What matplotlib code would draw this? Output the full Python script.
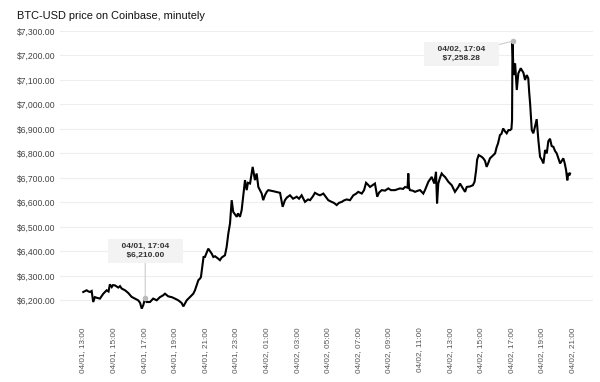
import matplotlib
matplotlib.use("Agg")
import matplotlib.pyplot as plt

# hours since 04/01 13:00
HOURS = [
    0.02, 0.24, 0.36, 0.46, 0.57, 0.67, 0.78, 0.92, 1.11, 1.33, 1.55, 1.67, 1.76, 1.88, 1.96,
    2.09, 2.31, 2.42, 2.53, 2.75, 2.96, 3.18, 3.40, 3.61, 3.73, 3.84, 3.94, 4.07, 4.16, 4.38,
    4.59, 4.82, 5.03, 5.23, 5.36, 5.58, 5.80, 6.01, 6.23, 6.45, 6.56, 6.78, 6.99, 7.21, 7.32,
    7.54, 7.65, 7.71, 7.80, 7.88, 7.97, 8.19, 8.41, 8.52, 8.63, 8.84, 8.95, 9.07, 9.28, 9.39,
    9.50, 9.61, 9.72, 9.82, 10.05, 10.13, 10.26, 10.37, 10.46, 10.59, 10.70, 10.78, 10.92, 11.09, 11.24,
    11.35, 11.46, 11.68, 11.78, 11.90, 12.01, 12.11, 12.48, 12.88, 13.05, 13.20, 13.33, 13.53, 13.73, 13.97,
    14.12, 14.29, 14.51, 14.71, 14.84, 15.03, 15.16, 15.36, 15.49, 15.71, 15.88, 16.03, 16.25, 16.40, 16.58,
    16.73, 16.91, 17.06, 17.23, 17.45, 17.67, 17.84, 17.99, 18.22, 18.37, 18.50, 18.63, 18.76, 18.92, 19.08,
    19.23, 19.35, 19.52, 19.74, 19.95, 20.13, 20.39, 20.72, 20.92, 21.05, 21.21, 21.26, 21.31, 21.37, 21.54,
    21.70, 21.90, 22.03, 22.24, 22.35, 22.57, 22.79, 22.96, 23.07, 23.14, 23.22, 23.33, 23.44, 23.55, 23.66,
    23.88, 24.10, 24.31, 24.53, 24.64, 24.80, 24.97, 25.08, 25.29, 25.48, 25.59, 25.69, 25.76, 25.86, 26.06,
    26.16, 26.27, 26.38, 26.48, 26.60, 26.82, 26.93, 27.04, 27.12, 27.25, 27.35, 27.46, 27.58, 27.69, 27.80,
    27.91, 28.00, 28.04, 28.07, 28.14, 28.24, 28.35, 28.45, 28.61, 28.67, 28.78, 28.89, 29.00, 29.10, 29.16,
    29.22, 29.33, 29.43, 29.54, 29.65, 29.76, 29.87, 29.98, 30.09, 30.20, 30.31, 30.41, 30.52, 30.63, 30.74,
    30.85, 30.96, 31.07, 31.18, 31.29, 31.39, 31.48, 31.57, 31.65, 31.72, 31.78, 31.83,
]
PRICES = [
    6234, 6241, 6236, 6234, 6238, 6193, 6213, 6210, 6207, 6227, 6241, 6236, 6265, 6254, 6262,
    6261, 6252, 6258, 6248, 6241, 6230, 6214, 6207, 6200, 6190, 6166, 6180, 6210, 6193, 6193,
    6207, 6200, 6213, 6220, 6227, 6216, 6213, 6207, 6200, 6189, 6175, 6200, 6213, 6227, 6241,
    6282, 6289, 6295, 6340, 6377, 6377, 6411, 6391, 6377, 6380, 6370, 6364, 6375, 6384, 6418,
    6473, 6514, 6609, 6561, 6541, 6555, 6541, 6568, 6620, 6691, 6650, 6680, 6677, 6745, 6691,
    6718, 6663, 6636, 6609, 6630, 6643, 6650, 6645, 6639, 6582, 6609, 6620, 6629, 6615, 6623,
    6615, 6629, 6602, 6612, 6609, 6625, 6639, 6632, 6629, 6636, 6622, 6609, 6602, 6598, 6589,
    6598, 6602, 6608, 6612, 6609, 6629, 6635, 6643, 6636, 6650, 6680, 6672, 6663, 6670, 6677,
    6623, 6640, 6650, 6648, 6657, 6650, 6650, 6657, 6655, 6663, 6660, 6718, 6660, 6650, 6648,
    6643, 6648, 6650, 6636, 6650, 6684, 6704, 6677, 6725, 6596, 6677, 6700, 6718, 6710, 6704,
    6684, 6670, 6643, 6663, 6677, 6660, 6643, 6663, 6665, 6670, 6684, 6730, 6775, 6793, 6786,
    6780, 6770, 6745, 6760, 6780, 6793, 6800, 6827, 6840, 6875, 6880, 6902, 6890, 6882, 6895,
    6895, 6900, 6936, 7258.28, 7120, 7168, 7059, 7127, 7148, 7141, 7130, 7100, 7120, 7107, 7050,
    7004, 6895, 6882, 6910, 6940, 6854, 6786, 6775, 6759, 6814, 6800, 6850, 6860, 6830, 6827,
    6810, 6800, 6780, 6759, 6770, 6780, 6760, 6732, 6690, 6720, 6710, 6718,
]

TICK_HOURS = list(range(0, 33, 2))
TICK_LABELS = [
    "04/01, 13:00", "04/01, 15:00", "04/01, 17:00", "04/01, 19:00", "04/01, 21:00",
    "04/01, 23:00", "04/02, 01:00", "04/02, 03:00", "04/02, 05:00", "04/02, 07:00",
    "04/02, 09:00", "04/02, 11:00", "04/02, 13:00", "04/02, 15:00", "04/02, 17:00",
    "04/02, 19:00", "04/02, 21:00",
]
Y_TICKS = list(range(6200, 7301, 100))

# annotated points: (hour, price, label)
NOTE_LOW = (4.07, 6210.00, "04/01, 17:04\n$6,210.00")
NOTE_HIGH = (28.07, 7258.28, "04/02, 17:04\n$7,258.28")

plt.rcParams["font.family"] = ["Liberation Sans", "DejaVu Sans"]

fig = plt.figure(figsize=(6, 3.82), dpi=100)
ax = fig.add_axes([60 / 600, 1 - 315 / 382, 533 / 600, 284 / 382])

ax.plot(HOURS, PRICES, color="black", lw=1.5, solid_joinstyle="miter")

ax.set_xlim(-1.5, 33.33)
ax.set_ylim(6140, 7300)
ax.set_yticks(Y_TICKS)
ax.set_yticklabels([f"${v:,.2f}" for v in Y_TICKS])
ax.set_xticks(TICK_HOURS)
ax.set_xticklabels(TICK_LABELS, rotation=90)
ax.tick_params(axis="y", length=0, pad=3, labelsize=6.2, labelcolor="#444444")
ax.tick_params(axis="x", length=0, pad=9, labelsize=5.9, labelcolor="#555555")
ax.grid(axis="y", color="#eeeeee", lw=0.8)
ax.set_axisbelow(True)
for s in ax.spines.values():
    s.set_visible(False)

box = dict(boxstyle="square,pad=0.5", fc="#f3f3f3", ec="none")
for (hx, py, txt), off in [(NOTE_LOW, (0, 34)), (NOTE_HIGH, (-37, -9))]:
    ax.annotate("    " + txt.replace("\n", "    \n    ") + "    ", xy=(hx, py), xytext=off,
                textcoords="offset points", ha="center", va="center",
                fontsize=6, color="#333333", fontweight="bold", linespacing=1.35,
                bbox=box,
                arrowprops=dict(arrowstyle="-", color="#cccccc", lw=0.8,
                                shrinkA=0, shrinkB=0))
    ax.plot([hx], [py], "o", ms=3, color="#bbbbbb", zorder=3)

fig.text(17 / 600, 1 - 16 / 382, "BTC-USD price on Coinbase, minutely",
         fontsize=7.9, color="#111111", va="center", ha="left")

fig.savefig("out.png", dpi=100)
